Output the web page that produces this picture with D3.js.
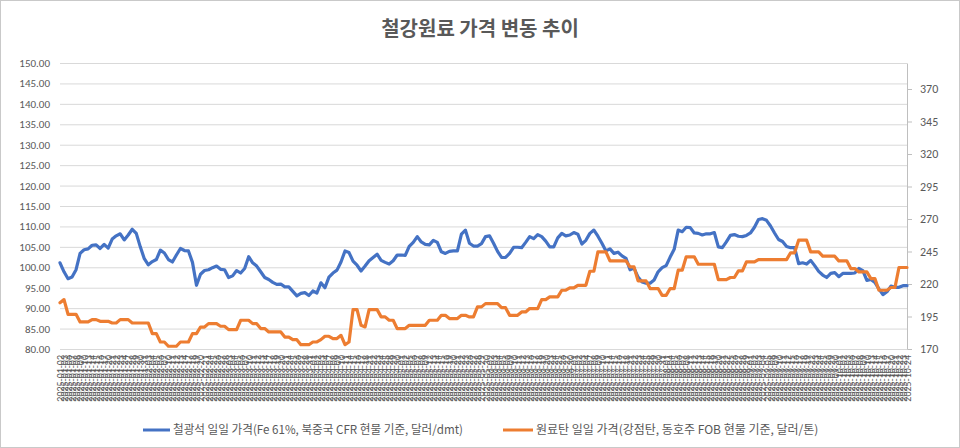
<!DOCTYPE html>
<html>
<head>
<meta charset="utf-8">
<script src="https://cdn.jsdelivr.net/npm/d3@7"></script>
<style>
  html, body { margin: 0; padding: 0; background: #fff; }
  svg { display: block; }
</style>
</head>
<body>
<script>
// 철광석 (좌축, 달러/dmt)
var ironOre = [
  101.1, 98.9, 97.2, 97.6, 99.4, 103.4, 104.3, 104.5, 105.4, 105.5,
  104.6, 105.6, 104.7, 106.9, 107.7, 108.2, 106.7, 107.9, 109.3, 108.3,
  105.0, 102.1, 100.6, 101.4, 101.9, 104.2, 103.5, 101.9, 101.3, 103.0,
  104.6, 104.1, 104.0, 101.2, 95.6, 98.3, 99.2, 99.4, 99.9, 100.3,
  99.5, 99.4, 97.5, 97.9, 99.2, 98.6, 99.7, 102.6, 101.1, 100.3,
  98.9, 97.5, 97.0, 96.3, 95.8, 95.9, 95.2, 95.2, 94.1, 93.0,
  93.6, 93.8, 93.1, 94.2, 93.7, 96.2, 95.0, 97.6, 98.6, 99.3,
  101.3, 104.0, 103.6, 101.5, 100.5, 99.1, 100.3, 101.6, 102.4, 103.2,
  101.7, 101.2, 100.8, 101.6, 103.0, 103.0, 102.9, 105.1, 106.1, 107.5,
  106.2, 105.6, 105.5, 106.6, 106.1, 103.8, 103.4, 103.9, 104.0, 104.0,
  108.1, 109.1, 105.9, 105.2, 105.2, 105.8, 107.5, 107.7, 105.9, 103.9,
  102.4, 102.4, 103.4, 104.9, 104.9, 104.8, 106.1, 107.5, 107.0, 108.0,
  107.5, 106.4, 105.0, 105.0, 107.2, 108.3, 107.7, 107.9, 108.5, 108.1,
  105.7, 106.6, 108.3, 109.1, 107.6, 105.9, 104.0, 104.5, 103.4, 103.7,
  102.8, 102.2, 99.4, 99.8, 97.6, 96.4, 96.1, 96.1, 96.9, 98.9,
  99.9, 100.4, 102.5, 104.4, 109.1, 108.7, 109.8, 109.7, 108.4, 108.3,
  107.9, 108.2, 108.2, 108.5, 105.0, 104.8, 106.2, 107.8, 108.0, 107.6,
  107.5, 107.8, 108.4, 109.8, 111.7, 111.9, 111.5, 110.1, 108.4, 106.8,
  106.3, 105.1, 104.8, 104.8, 100.9, 101.1, 100.8, 101.7, 100.4, 99.0,
  98.1, 97.5, 98.5, 98.7, 97.7, 98.5, 98.5, 98.5, 98.6, 99.7,
  99.2, 96.8, 97.0, 96.3, 94.7, 93.3, 94.0, 95.4, 95.1, 95.1,
  95.5, 95.5
];

// 원료탄 (우축, 달러/톤)
var cokingCoal = [
  205.5, 208.0, 196.7, 196.7, 196.7, 190.8, 190.8, 190.8, 192.6, 192.6,
  191.3, 191.3, 191.3, 190.0, 190.0, 192.6, 192.6, 192.6, 190.0, 190.0,
  190.0, 190.0, 190.0, 181.8, 181.8, 175.4, 175.4, 172.1, 172.1, 172.1,
  175.4, 175.4, 175.4, 181.8, 181.8, 186.9, 186.9, 189.5, 189.5, 189.5,
  187.5, 187.5, 184.9, 184.9, 184.9, 192.1, 192.1, 192.1, 189.5, 189.5,
  185.7, 185.7, 183.1, 183.1, 183.1, 183.1, 179.2, 179.2, 177.2, 177.2,
  173.3, 173.3, 173.3, 175.4, 175.4, 177.2, 179.8, 179.8, 178.0, 178.0,
  180.5, 173.3, 175.4, 200.3, 200.3, 188.2, 187.0, 200.3, 200.3, 200.3,
  194.7, 194.7, 192.1, 192.1, 185.7, 185.7, 185.7, 188.2, 188.2, 188.2,
  188.2, 188.2, 192.1, 192.1, 192.1, 195.9, 195.9, 193.4, 193.4, 193.4,
  195.9, 195.9, 194.7, 194.7, 202.4, 202.4, 204.9, 204.9, 204.9, 204.9,
  201.8, 201.8, 195.9, 195.9, 195.9, 198.5, 198.5, 201.1, 201.1, 201.1,
  208.0, 208.0, 210.1, 210.1, 210.1, 215.2, 215.2, 217.0, 217.0, 219.0,
  219.0, 219.0, 229.8, 229.8, 244.7, 244.7, 244.7, 237.8, 237.8, 237.8,
  237.8, 237.8, 233.2, 233.2, 222.4, 222.4, 222.4, 216.5, 216.5, 216.5,
  211.3, 211.3, 216.5, 216.5, 230.6, 230.6, 240.9, 240.9, 240.9, 235.2,
  235.2, 235.2, 235.2, 235.2, 223.4, 223.4, 223.4, 225.0, 225.0, 230.1,
  230.1, 237.0, 237.0, 237.0, 238.8, 238.8, 238.8, 238.8, 238.8, 238.8,
  238.8, 238.8, 244.0, 244.0, 253.7, 253.7, 253.7, 244.7, 244.7, 244.7,
  241.4, 241.4, 241.4, 241.4, 237.8, 237.8, 237.8, 231.9, 231.9, 229.3,
  229.3, 229.3, 224.2, 224.2, 215.2, 215.2, 215.2, 217.3, 217.3, 232.7,
  232.7, 232.7
];

// 거래일 (x축 항목)
var fmt = d3.timeFormat("%Y-%m-%d");
var dates = d3.timeDay.range(new Date(2025, 0, 2), new Date(2026, 0, 1))
  .filter(function(d) { return d.getDay() !== 0 && d.getDay() !== 6; })
  .slice(0, ironOre.length)
  .map(fmt);

var leftTicks = [80, 85, 90, 95, 100, 105, 110, 115, 120, 125, 130, 135, 140, 145, 150];
var rightTicks = [170, 195, 220, 245, 270, 295, 320, 345, 370];

var seriesNames = [
  "철광석 일일 가격(Fe 61%, 북중국 CFR 현물 기준, 달러/dmt)",
  "원료탄 일일 가격(강점탄, 동호주 FOB 현물 기준, 달러/톤)"
];
var title = "철강원료 가격 변동 추이";

var W = 960, H = 448;
var plot = { left: 60, right: 907, top: 63, bottom: 349 };
var numFont = "Calibri, Carlito, 'Liberation Sans', Arial, sans-serif";
var korFont = "'Noto Sans CJK KR', 'Malgun Gothic', sans-serif";
var textColor = "#595959";

var svg = d3.select("body").append("svg")
  .attr("width", W)
  .attr("height", H);

svg.append("rect")
  .attr("x", 0.5).attr("y", 0.5)
  .attr("width", W - 1).attr("height", H - 1)
  .attr("fill", "#fff")
  .attr("stroke", "#c9c9c9");

var x = d3.scalePoint().domain(dates).range([plot.left, plot.right]);
var yL = d3.scaleLinear().domain([80, 150]).range([plot.bottom, plot.top]);
var yR = d3.scaleLinear().domain([170, 390]).range([plot.bottom, plot.top]);

// 좌축 + 격자
var gL = svg.append("g")
  .attr("transform", "translate(" + plot.left + ",0)")
  .call(d3.axisLeft(yL).tickValues(leftTicks).tickFormat(d3.format(".2f"))
    .tickSize(-(plot.right - plot.left)).tickPadding(10));
gL.select(".domain").remove();
gL.selectAll(".tick line").attr("stroke", "#d9d9d9");
gL.selectAll(".tick text")
  .attr("fill", textColor)
  .style("font-family", numFont)
  .style("font-size", "11px");

// 우축
var gR = svg.append("g")
  .attr("transform", "translate(" + plot.right + ",0)")
  .call(d3.axisRight(yR).tickValues(rightTicks).tickSize(5).tickPadding(8).tickSizeOuter(0));
gR.select(".domain").attr("stroke", "#bfbfbf");
gR.selectAll(".tick line").attr("stroke", "#bfbfbf");
gR.selectAll(".tick text")
  .attr("fill", textColor)
  .style("font-family", numFont)
  .style("font-size", "12px");

// x축
var gX = svg.append("g")
  .attr("transform", "translate(0," + plot.bottom + ")")
  .call(d3.axisBottom(x).tickSize(0).tickSizeOuter(0));
gX.select(".domain").attr("stroke", "#d9d9d9");
gX.selectAll(".tick text")
  .attr("y", 0)
  .attr("x", -6)
  .attr("dy", "0.35em")
  .attr("transform", "rotate(-90)")
  .style("text-anchor", "end")
  .attr("fill", textColor)
  .style("font-family", numFont)
  .style("font-size", "10px");

// 선
var lineL = d3.line()
  .x(function(d, i) { return x(dates[i]); })
  .y(function(d) { return yL(d); });
var lineR = d3.line()
  .x(function(d, i) { return x(dates[i]); })
  .y(function(d) { return yR(d); });

svg.append("path")
  .datum(ironOre)
  .attr("d", lineL)
  .attr("fill", "none")
  .attr("stroke", "#4472c4")
  .attr("stroke-width", 3.2)
  .attr("stroke-linejoin", "round")
  .attr("stroke-linecap", "round");

svg.append("path")
  .datum(cokingCoal)
  .attr("d", lineR)
  .attr("fill", "none")
  .attr("stroke", "#ed7d31")
  .attr("stroke-width", 3.2)
  .attr("stroke-linejoin", "round")
  .attr("stroke-linecap", "round");

// 제목
svg.append("text")
  .attr("x", 480)
  .attr("y", 36)
  .attr("text-anchor", "middle")
  .attr("fill", textColor)
  .style("font-family", korFont)
  .style("font-weight", "bold")
  .style("font-size", "20px")
  .text(title);

// 범례
var legendItems = [
  { name: seriesNames[0], color: "#4472c4", x0: 143, x1: 170, width: 290 },
  { name: seriesNames[1], color: "#ed7d31", x0: 503, x1: 533, width: 303 }
];
var lg = svg.append("g").selectAll("g").data(legendItems).enter().append("g");
lg.append("line")
  .attr("x1", function(d) { return d.x0; })
  .attr("x2", function(d) { return d.x1; })
  .attr("y1", 430).attr("y2", 430)
  .attr("stroke", function(d) { return d.color; })
  .attr("stroke-width", 3);
lg.append("text")
  .attr("x", function(d) { return d.x1 + 3; })
  .attr("y", 430)
  .attr("dy", "0.35em")
  .attr("fill", textColor)
  .style("font-family", korFont)
  .style("font-size", "12px")
  .text(function(d) { return d.name; })
  .each(function(d) {
    // 원본 범례 폭에 맞춤
    var len = this.getComputedTextLength();
    if (len > d.width) {
      d3.select(this).attr("textLength", d.width).attr("lengthAdjust", "spacingAndGlyphs");
    }
  });
</script>
</body>
</html>
